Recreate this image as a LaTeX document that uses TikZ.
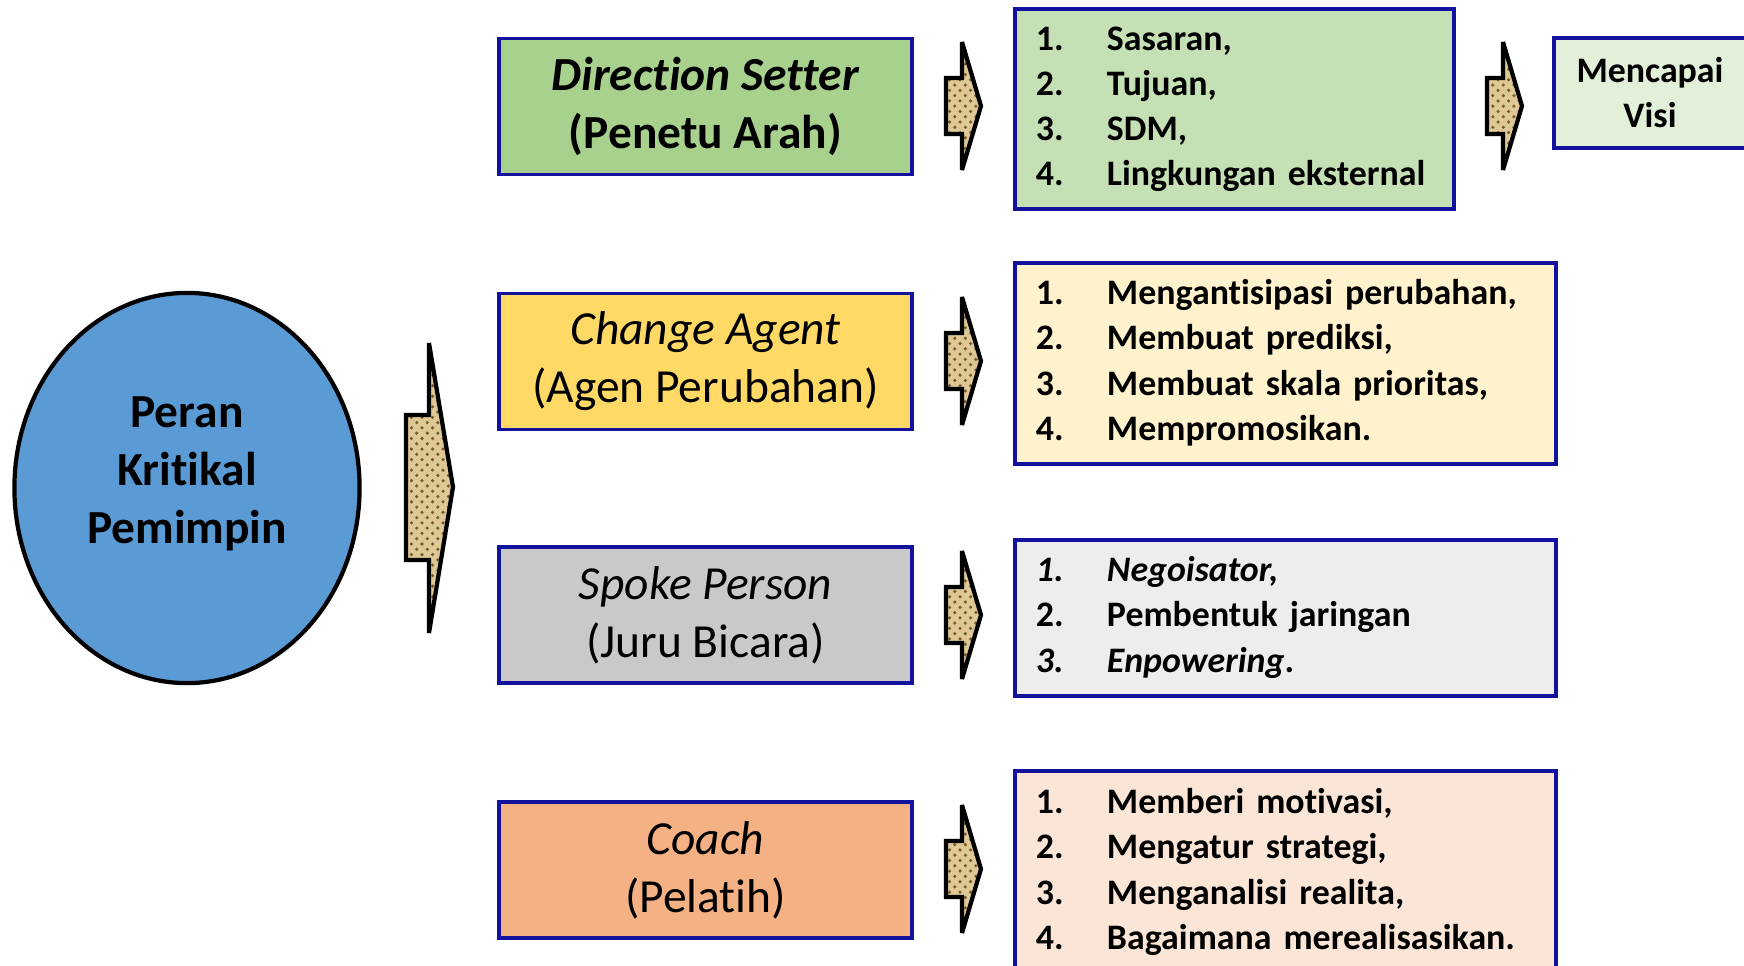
\documentclass[tikz,border=0pt]{standalone}
\usepackage{fontspec}
\setmainfont{Carlito}[Ligatures=NoCommon]
\usetikzlibrary{shapes.geometric,patterns}

\definecolor{edgeBlue}{RGB}{18,18,158}
\definecolor{circBlue}{RGB}{91,155,213}
\definecolor{greenDark}{RGB}{169,209,142}
\definecolor{greenLight}{RGB}{197,224,180}
\definecolor{greenPale}{RGB}{226,240,217}
\definecolor{yellowDark}{RGB}{255,217,102}
\definecolor{yellowLight}{RGB}{255,242,204}
\definecolor{grayDark}{RGB}{201,201,201}
\definecolor{grayLight}{RGB}{237,237,237}
\definecolor{orangeDark}{RGB}{244,177,131}
\definecolor{orangeLight}{RGB}{251,229,214}
\definecolor{burlap}{RGB}{222,200,150}
\definecolor{burlapDark}{RGB}{120,92,45}

\begin{document}
\begin{tikzpicture}[x=0.01cm, y=-0.01cm,
    role/.style={draw=edgeBlue, line width=1.1pt, minimum width=4.13cm,
        minimum height=1.36cm, inner sep=0pt, align=center,
        font=\fontsize{13.5}{16.5}\selectfont},
    duty/.style={draw=edgeBlue, line width=1.1pt, anchor=north west,
        inner xsep=0.21cm, inner ysep=0pt, align=left,
        font=\fontsize{10.2}{12.8}\selectfont\bfseries},
    burlap arrow/.style={draw=black, line width=1.2pt, miter limit=2,
        preaction={fill=burlap}, pattern=crosshatch dots,
        pattern color=burlapDark}]

    %% Peran kritikal pemimpin

    \newcommand{\chevronArrow}[2]{
        \filldraw[burlap arrow] (#1,#2) ++(0,-64) -- ++(19,64) -- ++(-19,64)
            -- ++(0,-36) -- ++(-16,0) -- ++(0,-56) -- ++(16,0) -- cycle;
    }

    \useasboundingbox (0,0) rectangle (1744,966);

    % Circle
    \node[ellipse, draw=black, line width=1.2pt, fill=circBlue,
        minimum width=3.45cm, minimum height=3.9cm] (peran) at (187,488) {};
    \node[align=center, font=\fontsize{13.5}{16.5}\selectfont\bfseries] (peranText)
        at (187,474) {Peran\\Kritikal\\Pemimpin};

    % Big arrow
    \filldraw[burlap arrow] (429,343) -- (453,487) -- (429,633) -- (429,560)
        -- (406,560) -- (406,415) -- (429,415) -- cycle;

    % Roles
    \node[role, fill=greenDark, font=\fontsize{13.5}{16.5}\selectfont\bfseries]
        (setter) at (705.5,106.5) {\textit{Direction Setter}\\(Penetu Arah)};
    \node[role, fill=yellowDark] (agent) at (705.5,361.5)
        {\textit{Change Agent}\\(Agen Perubahan)};
    \node[role, fill=grayDark] (spoke) at (705.5,615)
        {\textit{Spoke Person}\\(Juru Bicara)};
    \node[role, fill=orangeDark] (coach) at (705.5,870)
        {\textit{Coach}\\(Pelatih)};

    % Arrows
    \foreach \y in {106,361,615,869} {
        \chevronArrow{962}{\y}
    }
    \chevronArrow{1503}{106}

    % Duties
    \node[duty, fill=greenLight, text width=3.97cm, minimum height=2cm]
        (setterList) at (1013,7) {%
        \begin{tabular}{@{}p{0.71cm}@{}l@{}}
            1. & Sasaran,\\
            2. & Tujuan,\\
            3. & SDM,\\
            4. & Lingkungan eksternal
        \end{tabular}};
    \node[duty, fill=yellowLight, text width=4.99cm, minimum height=2.01cm]
        (agentList) at (1013,261) {%
        \begin{tabular}{@{}p{0.71cm}@{}l@{}}
            1. & Mengantisipasi perubahan,\\
            2. & Membuat prediksi,\\
            3. & Membuat skala prioritas,\\
            4. & Mempromosikan.
        \end{tabular}};
    \node[duty, fill=grayLight, text width=4.99cm, minimum height=1.56cm]
        (spokeList) at (1013,538) {%
        \begin{tabular}{@{}p{0.71cm}@{}l@{}}
            \textit{1.} & \textit{Negoisator,}\\
            2. & Pembentuk jaringan\\
            \textit{3.} & \textit{Enpowering}.
        \end{tabular}};
    \node[duty, fill=orangeLight, text width=4.99cm, minimum height=2.03cm]
        (coachList) at (1013,769) {%
        \begin{tabular}{@{}p{0.71cm}@{}l@{}}
            1. & Memberi motivasi,\\
            2. & Mengatur strategi,\\
            3. & Menganalisi realita,\\
            4. & Bagaimana merealisasikan.
        \end{tabular}};

    % Goal
    \node[draw=edgeBlue, line width=1.1pt, fill=greenPale, minimum width=1.92cm,
        minimum height=1.1cm, inner sep=0pt, align=center,
        font=\fontsize{10.2}{12.8}\selectfont\bfseries]
        (visi) at (1650,93) {Mencapai\\Visi};

\end{tikzpicture}
\end{document}
